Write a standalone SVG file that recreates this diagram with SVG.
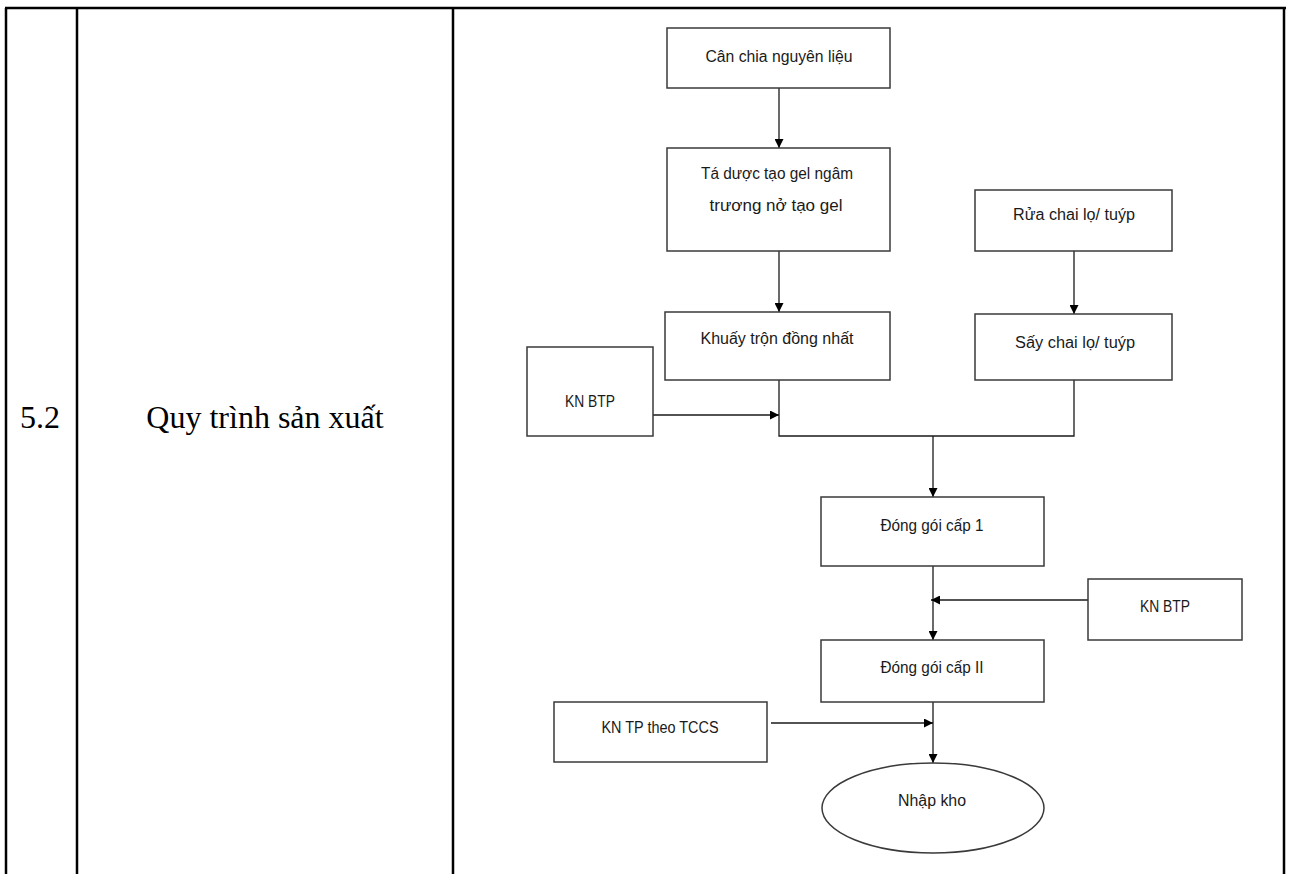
<svg xmlns="http://www.w3.org/2000/svg" width="1290" height="874" viewBox="0 0 1290 874">
<style>
.tbl{stroke:#000;stroke-width:2.5;fill:none}
.box{fill:#fff;stroke:#3a3a3a;stroke-width:1.5}
.con{stroke:#1a1a1a;stroke-width:1.3;fill:none}
.t{font-family:"Liberation Sans Narrow","Liberation Sans",Arial,sans-serif;font-size:16px;fill:#1a1a1a;text-anchor:middle}
.big{font-family:"Liberation Serif","Times New Roman",serif;font-size:32px;fill:#000}
</style>
<defs>
<marker id="ah" viewBox="0 0 10 10" refX="10" refY="5" markerWidth="10" markerHeight="9" markerUnits="userSpaceOnUse" orient="auto">
<path d="M0,0 L10,5 L0,10 z" fill="#000"/>
</marker>
</defs>
<rect width="1290" height="874" fill="#fff"/>
<g id="table">
<line class="tbl" x1="5" y1="8" x2="1286" y2="8"/>
<line class="tbl" x1="6" y1="8" x2="6" y2="874"/>
<line class="tbl" x1="77" y1="8" x2="77" y2="874"/>
<line class="tbl" x1="453" y1="8" x2="453" y2="874"/>
<line class="tbl" x1="1284" y1="8" x2="1284" y2="874"/>
<text class="big" x="20" y="428">5.2</text>
<text class="big" x="265" y="428" text-anchor="middle">Quy trình sản xuất</text>
</g>
<g id="connectors">
<line class="con" x1="779" y1="88" x2="779" y2="148" marker-end="url(#ah)"/>
<line class="con" x1="779" y1="251" x2="779" y2="312" marker-end="url(#ah)"/>
<line class="con" x1="1074" y1="251" x2="1074" y2="314" marker-end="url(#ah)"/>
<line class="con" x1="653" y1="415" x2="779" y2="415" marker-end="url(#ah)"/>
<polyline class="con" points="779,380 779,436 1074,436 1074,380"/>
<line class="con" x1="933" y1="436" x2="933" y2="497" marker-end="url(#ah)"/>
<line class="con" x1="933" y1="566" x2="933" y2="640" marker-end="url(#ah)"/>
<line class="con" x1="1088" y1="600" x2="931" y2="600" marker-end="url(#ah)"/>
<line class="con" x1="933" y1="702" x2="933" y2="763" marker-end="url(#ah)"/>
<line class="con" x1="771" y1="723" x2="933" y2="723" marker-end="url(#ah)"/>
</g>
<g id="n1"><rect class="box" x="667" y="28" width="223" height="60"/><text class="t" x="779" y="62" textLength="147" lengthAdjust="spacingAndGlyphs">Cân chia nguyên liệu</text></g>
<g id="n2"><rect class="box" x="667" y="148" width="223" height="103"/><text class="t" x="777" y="179" textLength="152" lengthAdjust="spacingAndGlyphs">Tá dược tạo gel ngâm</text><text class="t" x="776" y="211" textLength="133" lengthAdjust="spacingAndGlyphs">trương nở tạo gel</text></g>
<g id="n3"><rect class="box" x="665" y="312" width="225" height="68"/><text class="t" x="777" y="344" textLength="153" lengthAdjust="spacingAndGlyphs">Khuấy trộn đồng nhất</text></g>
<g id="n4"><rect class="box" x="975" y="190" width="197" height="61"/><text class="t" x="1074" y="220" textLength="122" lengthAdjust="spacingAndGlyphs">Rửa chai lọ/ tuýp</text></g>
<g id="n5"><rect class="box" x="975" y="314" width="197" height="66"/><text class="t" x="1075" y="348" textLength="120" lengthAdjust="spacingAndGlyphs">Sấy chai lọ/ tuýp</text></g>
<g id="n6"><rect class="box" x="527" y="347" width="126" height="89"/><text class="t" x="590" y="407" textLength="50" lengthAdjust="spacingAndGlyphs">KN BTP</text></g>
<g id="n7"><rect class="box" x="821" y="497" width="223" height="69"/><text class="t" x="932" y="531" textLength="103" lengthAdjust="spacingAndGlyphs">Đóng gói cấp 1</text></g>
<g id="n8"><rect class="box" x="1088" y="579" width="154" height="61"/><text class="t" x="1165" y="612" textLength="50" lengthAdjust="spacingAndGlyphs">KN BTP</text></g>
<g id="n9"><rect class="box" x="821" y="640" width="223" height="62"/><text class="t" x="932" y="673" textLength="103" lengthAdjust="spacingAndGlyphs">Đóng gói cấp II</text></g>
<g id="n10"><rect class="box" x="554" y="702" width="213" height="60"/><text class="t" x="660" y="733" textLength="117" lengthAdjust="spacingAndGlyphs">KN TP theo TCCS</text></g>
<g id="n11"><ellipse class="box" cx="933" cy="808" rx="111" ry="45"/><text class="t" x="932" y="806" textLength="68" lengthAdjust="spacingAndGlyphs">Nhập kho</text></g>
</svg>
